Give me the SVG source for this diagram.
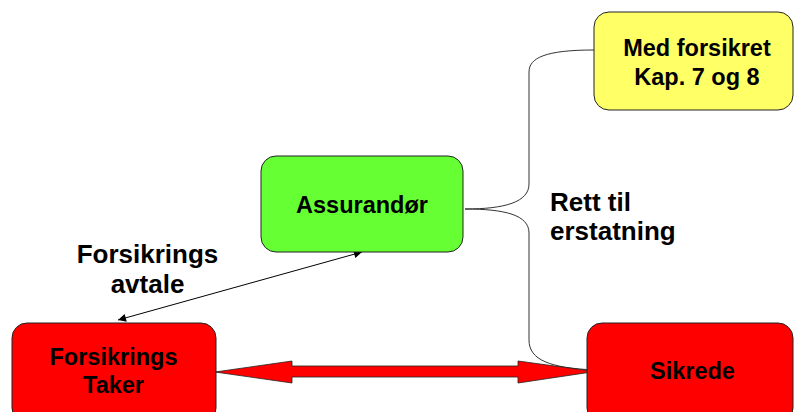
<svg xmlns="http://www.w3.org/2000/svg" width="794" height="412" viewBox="0 0 794 412">
<defs>
<style>
.box{stroke:#222;stroke-width:1}
.t{font-family:"Liberation Sans",Arial,sans-serif;font-weight:bold;fill:#000}
.bt{font-size:23.5px;text-anchor:middle}
.lt{font-size:26px}
.c{fill:none;stroke:#333;stroke-width:1}
</style>
<marker id="ah" viewBox="0 0 10 10" refX="10" refY="5" markerWidth="10" markerHeight="8" markerUnits="userSpaceOnUse" orient="auto-start-reverse">
<path d="M0,0 L10,5 L0,10 z" fill="#000"/>
</marker>
</defs>
<rect width="794" height="412" fill="#fff"/>
<g id="connectors">
<path class="c" d="M465,209 C505,209 529,202 529,184 L529,72 C529,58 545,50 594,50"/>
<path class="c" d="M465,209 C505,209 529,215 529,233 L529,340 C529,360 550,368 595,370"/>
<line x1="118" y1="320" x2="362" y2="252" stroke="#000" stroke-width="1" marker-start="url(#ah)" marker-end="url(#ah)"/>
<polygon points="215,372 292,361 292,366 518,366 518,361 595,371.5 518,383 518,377 292,377 292,383" fill="#ff0000" stroke="#222" stroke-width="0.8"/>
</g>
<g id="med-forsikret">
<rect class="box" x="594" y="12" width="199" height="98" rx="15" fill="#ffff66"/>
<text class="t bt" x="697" y="56">Med forsikret</text>
<text class="t bt" x="697" y="85">Kap. 7 og 8</text>
</g>
<g id="assurandor">
<rect class="box" x="261" y="156" width="202" height="96" rx="15" fill="#66ff33"/>
<text class="t bt" x="362" y="213">Assurandør</text>
</g>
<g id="forsikringstaker">
<rect class="box" x="12" y="323" width="204" height="100" rx="15" fill="#ff0000"/>
<text class="t bt" x="113.5" y="365">Forsikrings</text>
<text class="t bt" x="113.5" y="393">Taker</text>
</g>
<g id="sikrede">
<rect class="box" x="587" y="323" width="206" height="100" rx="15" fill="#ff0000"/>
<text class="t bt" x="692.5" y="379">Sikrede</text>
</g>
<g id="labels">
<text class="t lt" x="147.5" y="263" text-anchor="middle">Forsikrings</text>
<text class="t lt" x="147.5" y="293" text-anchor="middle">avtale</text>
<text class="t lt" x="550" y="211">Rett til</text>
<text class="t lt" x="550" y="240">erstatning</text>
</g>
</svg>
